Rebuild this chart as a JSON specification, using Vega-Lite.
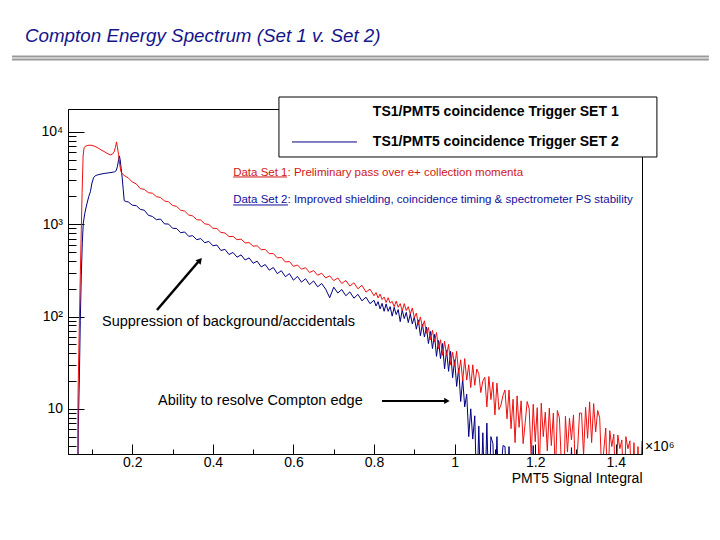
{
"$schema": "https://vega.github.io/schema/vega-lite/v6.json",
"width": 574, "height": 345,
"autosize": {"type": "none"},
"padding": {"left": 68, "top": 109, "right": 78, "bottom": 86},
"background": "white",
"config": {"view": {"stroke": "black", "strokeWidth": 1}, "font": "Liberation Sans"},
"layer": [
{
"data": {"values": [
{"set":"SET 2","x":0.062,"n":1},{"set":"SET 2","x":0.065,"n":1},{"set":"SET 2","x":0.066,"n":6},{"set":"SET 2","x":0.069,"n":25},{"set":"SET 2","x":0.071,"n":90},{"set":"SET 2","x":0.0735,"n":280},{"set":"SET 2","x":0.076,"n":630},{"set":"SET 2","x":0.0785,"n":1030},{"set":"SET 2","x":0.082,"n":1300},{"set":"SET 2","x":0.085,"n":1500},{"set":"SET 2","x":0.088,"n":1700},{"set":"SET 2","x":0.092,"n":2000},{"set":"SET 2","x":0.096,"n":2250},{"set":"SET 2","x":0.1,"n":2800},{"set":"SET 2","x":0.104,"n":3200},{"set":"SET 2","x":0.108,"n":3350},{"set":"SET 2","x":0.113,"n":3420},{"set":"SET 2","x":0.12,"n":3480},{"set":"SET 2","x":0.13,"n":3550},{"set":"SET 2","x":0.14,"n":3600},{"set":"SET 2","x":0.15,"n":3650},{"set":"SET 2","x":0.156,"n":3700},{"set":"SET 2","x":0.16,"n":3800},{"set":"SET 2","x":0.163,"n":4200},{"set":"SET 2","x":0.166,"n":5000},{"set":"SET 2","x":0.168,"n":5500},{"set":"SET 2","x":0.17,"n":5000},{"set":"SET 2","x":0.1725,"n":4000},{"set":"SET 2","x":0.175,"n":3200},{"set":"SET 2","x":0.1775,"n":2400},{"set":"SET 2","x":0.18,"n":1800},{"set":"SET 2","x":0.185,"n":1760},
{"set":"SET 2","x":0.19,"n":1750},{"set":"SET 2","x":0.2,"n":1610},{"set":"SET 2","x":0.21,"n":1590},{"set":"SET 2","x":0.22,"n":1450},{"set":"SET 2","x":0.23,"n":1420},{"set":"SET 2","x":0.24,"n":1250},{"set":"SET 2","x":0.25,"n":1215},{"set":"SET 2","x":0.26,"n":1120},{"set":"SET 2","x":0.27,"n":1140},{"set":"SET 2","x":0.28,"n":1010},{"set":"SET 2","x":0.29,"n":1005},{"set":"SET 2","x":0.3,"n":905},{"set":"SET 2","x":0.31,"n":900},{"set":"SET 2","x":0.32,"n":810},{"set":"SET 2","x":0.33,"n":825},{"set":"SET 2","x":0.34,"n":740},{"set":"SET 2","x":0.35,"n":752},{"set":"SET 2","x":0.36,"n":680},{"set":"SET 2","x":0.37,"n":700},{"set":"SET 2","x":0.38,"n":630},{"set":"SET 2","x":0.39,"n":652},{"set":"SET 2","x":0.4,"n":585},{"set":"SET 2","x":0.41,"n":596},{"set":"SET 2","x":0.42,"n":520},{"set":"SET 2","x":0.43,"n":535},{"set":"SET 2","x":0.44,"n":470},{"set":"SET 2","x":0.45,"n":495},{"set":"SET 2","x":0.46,"n":440},{"set":"SET 2","x":0.47,"n":466},{"set":"SET 2","x":0.48,"n":410},{"set":"SET 2","x":0.49,"n":432},{"set":"SET 2","x":0.5,"n":378},{"set":"SET 2","x":0.51,"n":398},{"set":"SET 2","x":0.52,"n":345},{"set":"SET 2","x":0.53,"n":366},{"set":"SET 2","x":0.54,"n":318},{"set":"SET 2","x":0.55,"n":340},{"set":"SET 2","x":0.56,"n":292},{"set":"SET 2","x":0.57,"n":314},{"set":"SET 2","x":0.58,"n":270},{"set":"SET 2","x":0.59,"n":292},{"set":"SET 2","x":0.6,"n":248},{"set":"SET 2","x":0.61,"n":272},{"set":"SET 2","x":0.62,"n":236},{"set":"SET 2","x":0.63,"n":257},{"set":"SET 2","x":0.64,"n":222},{"set":"SET 2","x":0.65,"n":243},{"set":"SET 2","x":0.66,"n":210},{"set":"SET 2","x":0.67,"n":228},{"set":"SET 2","x":0.68,"n":198},{"set":"SET 2","x":0.69,"n":160},{"set":"SET 2","x":0.7,"n":208},{"set":"SET 2","x":0.71,"n":180},{"set":"SET 2","x":0.72,"n":196},{"set":"SET 2","x":0.73,"n":168},{"set":"SET 2","x":0.74,"n":185},{"set":"SET 2","x":0.75,"n":158},{"set":"SET 2","x":0.76,"n":174},{"set":"SET 2","x":0.77,"n":148},{"set":"SET 2","x":0.78,"n":162},{"set":"SET 2","x":0.79,"n":138},{"set":"SET 2","x":0.8,"n":150},
{"set":"SET 2","x":0.805,"n":130},{"set":"SET 2","x":0.81,"n":145},{"set":"SET 2","x":0.815,"n":121},{"set":"SET 2","x":0.82,"n":139},{"set":"SET 2","x":0.825,"n":114},{"set":"SET 2","x":0.83,"n":137},{"set":"SET 2","x":0.835,"n":114},{"set":"SET 2","x":0.84,"n":128},{"set":"SET 2","x":0.845,"n":101},{"set":"SET 2","x":0.85,"n":126},{"set":"SET 2","x":0.855,"n":105},{"set":"SET 2","x":0.86,"n":119},{"set":"SET 2","x":0.865,"n":88},{"set":"SET 2","x":0.87,"n":118},{"set":"SET 2","x":0.875,"n":95},{"set":"SET 2","x":0.88,"n":111},{"set":"SET 2","x":0.885,"n":86},{"set":"SET 2","x":0.89,"n":107},{"set":"SET 2","x":0.895,"n":83},{"set":"SET 2","x":0.9,"n":99},{"set":"SET 2","x":0.905,"n":73},{"set":"SET 2","x":0.91,"n":92},{"set":"SET 2","x":0.915,"n":62},{"set":"SET 2","x":0.92,"n":83},{"set":"SET 2","x":0.925,"n":60},{"set":"SET 2","x":0.93,"n":77},{"set":"SET 2","x":0.935,"n":51},{"set":"SET 2","x":0.94,"n":69},{"set":"SET 2","x":0.945,"n":45},{"set":"SET 2","x":0.95,"n":64},{"set":"SET 2","x":0.955,"n":37},{"set":"SET 2","x":0.96,"n":55},{"set":"SET 2","x":0.965,"n":35},{"set":"SET 2","x":0.97,"n":51},{"set":"SET 2","x":0.975,"n":27},{"set":"SET 2","x":0.98,"n":43},{"set":"SET 2","x":0.985,"n":25.5},{"set":"SET 2","x":0.99,"n":42},{"set":"SET 2","x":0.995,"n":21.7},{"set":"SET 2","x":1.0,"n":34},{"set":"SET 2","x":1.005,"n":17.5},{"set":"SET 2","x":1.01,"n":27.6},{"set":"SET 2","x":1.015,"n":12},{"set":"SET 2","x":1.02,"n":21},{"set":"SET 2","x":1.025,"n":10.5},{"set":"SET 2","x":1.03,"n":14.4},{"set":"SET 2","x":1.035,"n":5},{"set":"SET 2","x":1.04,"n":10},{"set":"SET 2","x":1.045,"n":4.7},{"set":"SET 2","x":1.05,"n":8.4},{"set":"SET 2","x":1.055,"n":1},{"set":"SET 2","x":1.06,"n":6.5},{"set":"SET 2","x":1.065,"n":1},{"set":"SET 2","x":1.07,"n":5.5},{"set":"SET 2","x":1.075,"n":1},{"set":"SET 2","x":1.08,"n":7},{"set":"SET 2","x":1.085,"n":1},{"set":"SET 2","x":1.09,"n":5},{"set":"SET 2","x":1.095,"n":4.2},{"set":"SET 2","x":1.1,"n":1},{"set":"SET 2","x":1.105,"n":5},{"set":"SET 2","x":1.11,"n":1},{"set":"SET 2","x":1.12,"n":4},{"set":"SET 2","x":1.125,"n":3.9},{"set":"SET 2","x":1.13,"n":1},{"set":"SET 2","x":1.135,"n":3.9},{"set":"SET 2","x":1.14,"n":1},{"set":"SET 2","x":1.19,"n":1},{"set":"SET 2","x":1.195,"n":4},{"set":"SET 2","x":1.2,"n":1},{"set":"SET 2","x":1.285,"n":1},{"set":"SET 2","x":1.29,"n":3.8},{"set":"SET 2","x":1.295,"n":1},{"set":"SET 2","x":1.465,"n":1},
{"set":"SET 1","x":0.06,"n":1},{"set":"SET 1","x":0.064,"n":1},{"set":"SET 1","x":0.0655,"n":15},{"set":"SET 1","x":0.068,"n":60},{"set":"SET 1","x":0.0705,"n":220},{"set":"SET 1","x":0.073,"n":700},{"set":"SET 1","x":0.0755,"n":2200},{"set":"SET 1","x":0.078,"n":5500},{"set":"SET 1","x":0.0805,"n":6800},{"set":"SET 1","x":0.085,"n":7050},{"set":"SET 1","x":0.09,"n":7150},{"set":"SET 1","x":0.095,"n":7200},{"set":"SET 1","x":0.1,"n":7150},{"set":"SET 1","x":0.105,"n":7050},{"set":"SET 1","x":0.11,"n":6900},{"set":"SET 1","x":0.115,"n":6700},{"set":"SET 1","x":0.12,"n":6500},{"set":"SET 1","x":0.125,"n":6300},{"set":"SET 1","x":0.13,"n":6150},{"set":"SET 1","x":0.135,"n":5950},{"set":"SET 1","x":0.14,"n":5800},{"set":"SET 1","x":0.145,"n":5650},{"set":"SET 1","x":0.15,"n":5700},{"set":"SET 1","x":0.155,"n":6100},{"set":"SET 1","x":0.158,"n":6800},{"set":"SET 1","x":0.161,"n":7800},{"set":"SET 1","x":0.163,"n":6900},{"set":"SET 1","x":0.166,"n":5700},{"set":"SET 1","x":0.169,"n":4400},{"set":"SET 1","x":0.172,"n":3700},{"set":"SET 1","x":0.176,"n":3500},
{"set":"SET 1","x":0.18,"n":3380},{"set":"SET 1","x":0.19,"n":3180},{"set":"SET 1","x":0.2,"n":2870},{"set":"SET 1","x":0.21,"n":2740},{"set":"SET 1","x":0.22,"n":2430},{"set":"SET 1","x":0.23,"n":2390},{"set":"SET 1","x":0.24,"n":2200},{"set":"SET 1","x":0.25,"n":2170},{"set":"SET 1","x":0.26,"n":1990},{"set":"SET 1","x":0.27,"n":1950},{"set":"SET 1","x":0.28,"n":1790},{"set":"SET 1","x":0.29,"n":1750},{"set":"SET 1","x":0.3,"n":1600},{"set":"SET 1","x":0.31,"n":1560},{"set":"SET 1","x":0.32,"n":1420},{"set":"SET 1","x":0.33,"n":1390},{"set":"SET 1","x":0.34,"n":1260},{"set":"SET 1","x":0.35,"n":1230},{"set":"SET 1","x":0.36,"n":1120},{"set":"SET 1","x":0.37,"n":1110},{"set":"SET 1","x":0.38,"n":1010},{"set":"SET 1","x":0.39,"n":995},{"set":"SET 1","x":0.4,"n":905},{"set":"SET 1","x":0.41,"n":900},{"set":"SET 1","x":0.42,"n":815},{"set":"SET 1","x":0.43,"n":805},{"set":"SET 1","x":0.44,"n":735},{"set":"SET 1","x":0.45,"n":740},{"set":"SET 1","x":0.46,"n":680},{"set":"SET 1","x":0.47,"n":690},{"set":"SET 1","x":0.48,"n":628},{"set":"SET 1","x":0.49,"n":632},{"set":"SET 1","x":0.5,"n":578},{"set":"SET 1","x":0.51,"n":585},{"set":"SET 1","x":0.52,"n":530},{"set":"SET 1","x":0.53,"n":534},{"set":"SET 1","x":0.54,"n":480},{"set":"SET 1","x":0.55,"n":482},{"set":"SET 1","x":0.56,"n":432},{"set":"SET 1","x":0.57,"n":437},{"set":"SET 1","x":0.58,"n":390},{"set":"SET 1","x":0.59,"n":395},{"set":"SET 1","x":0.6,"n":350},{"set":"SET 1","x":0.61,"n":362},{"set":"SET 1","x":0.62,"n":326},{"set":"SET 1","x":0.63,"n":338},{"set":"SET 1","x":0.64,"n":300},{"set":"SET 1","x":0.65,"n":315},{"set":"SET 1","x":0.66,"n":280},{"set":"SET 1","x":0.67,"n":295},{"set":"SET 1","x":0.68,"n":262},{"set":"SET 1","x":0.69,"n":276},{"set":"SET 1","x":0.7,"n":245},{"set":"SET 1","x":0.71,"n":262},{"set":"SET 1","x":0.72,"n":228},{"set":"SET 1","x":0.73,"n":246},{"set":"SET 1","x":0.74,"n":214},{"set":"SET 1","x":0.75,"n":232},{"set":"SET 1","x":0.76,"n":200},{"set":"SET 1","x":0.77,"n":218},{"set":"SET 1","x":0.78,"n":184},{"set":"SET 1","x":0.79,"n":198},{"set":"SET 1","x":0.8,"n":168},
{"set":"SET 1","x":0.805,"n":182},{"set":"SET 1","x":0.81,"n":159},{"set":"SET 1","x":0.815,"n":175},{"set":"SET 1","x":0.82,"n":153},{"set":"SET 1","x":0.825,"n":163},{"set":"SET 1","x":0.83,"n":142},{"set":"SET 1","x":0.835,"n":160},{"set":"SET 1","x":0.84,"n":140},{"set":"SET 1","x":0.845,"n":146},{"set":"SET 1","x":0.85,"n":128},{"set":"SET 1","x":0.855,"n":147},{"set":"SET 1","x":0.86,"n":126},{"set":"SET 1","x":0.865,"n":138},{"set":"SET 1","x":0.87,"n":115},{"set":"SET 1","x":0.875,"n":138},{"set":"SET 1","x":0.88,"n":116},{"set":"SET 1","x":0.885,"n":128},{"set":"SET 1","x":0.89,"n":106},{"set":"SET 1","x":0.895,"n":124},{"set":"SET 1","x":0.9,"n":97},{"set":"SET 1","x":0.905,"n":109},{"set":"SET 1","x":0.91,"n":82},{"set":"SET 1","x":0.915,"n":99},{"set":"SET 1","x":0.92,"n":77},{"set":"SET 1","x":0.925,"n":90},{"set":"SET 1","x":0.93,"n":66},{"set":"SET 1","x":0.935,"n":76},{"set":"SET 1","x":0.94,"n":56},{"set":"SET 1","x":0.945,"n":71},{"set":"SET 1","x":0.95,"n":53},{"set":"SET 1","x":0.955,"n":67},{"set":"SET 1","x":0.96,"n":45},{"set":"SET 1","x":0.965,"n":56},{"set":"SET 1","x":0.97,"n":38},{"set":"SET 1","x":0.975,"n":54},{"set":"SET 1","x":0.98,"n":38},{"set":"SET 1","x":0.985,"n":50},{"set":"SET 1","x":0.99,"n":30},{"set":"SET 1","x":0.995,"n":41},{"set":"SET 1","x":1.0,"n":29},{"set":"SET 1","x":1.005,"n":42},{"set":"SET 1","x":1.01,"n":24},{"set":"SET 1","x":1.015,"n":34},{"set":"SET 1","x":1.02,"n":20},{"set":"SET 1","x":1.025,"n":35},{"set":"SET 1","x":1.03,"n":20.5},{"set":"SET 1","x":1.035,"n":30},{"set":"SET 1","x":1.04,"n":17},{"set":"SET 1","x":1.045,"n":30},{"set":"SET 1","x":1.05,"n":18},{"set":"SET 1","x":1.055,"n":27},{"set":"SET 1","x":1.06,"n":24},{"set":"SET 1","x":1.065,"n":15},{"set":"SET 1","x":1.07,"n":20},{"set":"SET 1","x":1.075,"n":22},{"set":"SET 1","x":1.08,"n":10.5},{"set":"SET 1","x":1.085,"n":22.4},{"set":"SET 1","x":1.09,"n":12.6},{"set":"SET 1","x":1.095,"n":19.5},{"set":"SET 1","x":1.1,"n":8.6},{"set":"SET 1","x":1.105,"n":19},{"set":"SET 1","x":1.11,"n":9.8},{"set":"SET 1","x":1.115,"n":11},{"set":"SET 1","x":1.12,"n":14},{"set":"SET 1","x":1.125,"n":16},{"set":"SET 1","x":1.13,"n":7.8},{"set":"SET 1","x":1.135,"n":16},{"set":"SET 1","x":1.14,"n":6.1},{"set":"SET 1","x":1.145,"n":12.7},{"set":"SET 1","x":1.15,"n":4.3},{"set":"SET 1","x":1.155,"n":13.8},{"set":"SET 1","x":1.16,"n":6.3},{"set":"SET 1","x":1.165,"n":12.2},{"set":"SET 1","x":1.17,"n":4.2},{"set":"SET 1","x":1.175,"n":7},{"set":"SET 1","x":1.18,"n":12},{"set":"SET 1","x":1.185,"n":10},{"set":"SET 1","x":1.19,"n":3},{"set":"SET 1","x":1.195,"n":11.2},{"set":"SET 1","x":1.2,"n":4.4},{"set":"SET 1","x":1.205,"n":10.3},{"set":"SET 1","x":1.21,"n":2},{"set":"SET 1","x":1.215,"n":11.5},{"set":"SET 1","x":1.22,"n":5},{"set":"SET 1","x":1.225,"n":9.2},{"set":"SET 1","x":1.23,"n":3.5},{"set":"SET 1","x":1.235,"n":10.2},{"set":"SET 1","x":1.24,"n":4},{"set":"SET 1","x":1.245,"n":9},{"set":"SET 1","x":1.25,"n":1.9},{"set":"SET 1","x":1.255,"n":9.6},{"set":"SET 1","x":1.26,"n":8},{"set":"SET 1","x":1.265,"n":2.5},{"set":"SET 1","x":1.27,"n":1},{"set":"SET 1","x":1.275,"n":8.3},{"set":"SET 1","x":1.28,"n":3.4},{"set":"SET 1","x":1.285,"n":7.9},{"set":"SET 1","x":1.29,"n":4.6},{"set":"SET 1","x":1.295,"n":8.6},{"set":"SET 1","x":1.3,"n":1.7},{"set":"SET 1","x":1.305,"n":3.5},{"set":"SET 1","x":1.31,"n":9},{"set":"SET 1","x":1.315,"n":9},{"set":"SET 1","x":1.32,"n":3.1},{"set":"SET 1","x":1.325,"n":10.4},{"set":"SET 1","x":1.33,"n":4.8},{"set":"SET 1","x":1.335,"n":11.9},{"set":"SET 1","x":1.34,"n":4.3},{"set":"SET 1","x":1.345,"n":11.4},{"set":"SET 1","x":1.35,"n":5.6},{"set":"SET 1","x":1.355,"n":9.6},{"set":"SET 1","x":1.36,"n":8},{"set":"SET 1","x":1.365,"n":2},{"set":"SET 1","x":1.37,"n":3.5},{"set":"SET 1","x":1.375,"n":6.2},{"set":"SET 1","x":1.38,"n":1.2},{"set":"SET 1","x":1.385,"n":5.8},{"set":"SET 1","x":1.39,"n":3.9},{"set":"SET 1","x":1.395,"n":5.3},{"set":"SET 1","x":1.4,"n":1.2},{"set":"SET 1","x":1.405,"n":5.2},{"set":"SET 1","x":1.41,"n":3.7},{"set":"SET 1","x":1.415,"n":4.6},{"set":"SET 1","x":1.42,"n":1},{"set":"SET 1","x":1.425,"n":5},{"set":"SET 1","x":1.43,"n":3.7},{"set":"SET 1","x":1.435,"n":4.5},{"set":"SET 1","x":1.44,"n":1},{"set":"SET 1","x":1.445,"n":4.3},{"set":"SET 1","x":1.45,"n":1},{"set":"SET 1","x":1.455,"n":3.9},{"set":"SET 1","x":1.46,"n":1},{"set":"SET 1","x":1.465,"n":4.5}
]},
"mark": {"type": "line", "clip": true, "strokeWidth": 1},
"encoding": {
"x": {"field": "x", "type": "quantitative",
 "scale": {"domain": [0.0405, 1.465], "nice": false, "zero": false},
 "axis": {"values": [0.1,0.2,0.3,0.4,0.5,0.6,0.7,0.8,0.9,1,1.1,1.2,1.3,1.4], "format": "~g",
  "labelExpr": "indexof([0.2,0.4,0.6,0.8,1,1.2,1.4], datum.value) >= 0 ? datum.label : ''",
  "tickSize": {"condition": {"test": "indexof([0.2,0.4,0.6,0.8,1,1.2,1.4], datum.value) >= 0", "value": -10}, "value": -5},
  "tickColor": "black", "domainColor": "black", "grid": false, "labelColor": "black", "labelFontSize": 14, "labelFont": "Liberation Sans", "labelPadding": 11.5, "labelOverlap": false, "labelFlush": false,
  "title": "PMT5 Signal Integral", "titleAnchor": "end", "titleFontSize": 14, "titleFontWeight": "normal", "titleColor": "black", "titleFont": "Liberation Sans", "titlePadding": -3}},
"y": {"field": "n", "type": "quantitative",
 "scale": {"type": "log", "domain": [3.24, 17740], "nice": false},
 "axis": {"values": [4,5,6,7,8,9,10,20,30,40,50,60,70,80,90,100,200,300,400,500,600,700,800,900,1000,2000,3000,4000,5000,6000,7000,8000,9000,10000],
  "labelExpr": "datum.value == 10 ? '10' : datum.value == 100 ? '10²' : datum.value == 1000 ? '10³' : datum.value == 10000 ? '10⁴' : ''",
  "tickSize": {"condition": {"test": "indexof([10,100,1000,10000], datum.value) >= 0", "value": -16}, "value": -8},
  "tickColor": "black", "domainColor": "black", "grid": false, "labelColor": "black", "labelFontSize": 14, "labelFont": "Liberation Sans", "labelPadding": 21.5, "labelOverlap": false, "labelFlush": false, "title": null}},
"color": {"field": "set", "type": "nominal", "scale": {"domain": ["SET 2", "SET 1"], "range": ["#000080", "#ee1010"]}, "legend": null}
}
},
{"data": {"values": [{}]}, "mark": {"type": "rule", "color": "#999999", "strokeWidth": 2},
 "encoding": {"x": {"datum": -0.0985}, "x2": {"datum": 1.631}, "y": {"datum": 65770}}},
{"data": {"values": [{}]}, "mark": {"type": "rule", "color": "#999999", "strokeWidth": 2},
 "encoding": {"x": {"datum": -0.0985}, "x2": {"datum": 1.631}, "y": {"datum": 61030}}},
{"data": {"values": [{}]}, "mark": {"type": "text", "text": "Compton Energy Spectrum (Set 1 v. Set 2)", "align": "left", "baseline": "alphabetic", "fontSize": 18.8, "fontStyle": "italic", "font": "Liberation Sans", "color": "#14148c"},
 "encoding": {"x": {"datum": -0.0663}, "y": {"datum": 94400}}},
{"data": {"values": [{}]}, "mark": {"type": "rect", "fill": "white", "stroke": "black", "strokeWidth": 1},
 "encoding": {"x": {"datum": 0.564}, "x2": {"datum": 1.502}, "y": {"datum": 23930}, "y2": {"datum": 5357}}},
{"data": {"values": [{}]}, "mark": {"type": "rule", "color": "#000080", "strokeWidth": 1},
 "encoding": {"x": {"datum": 0.5963}, "x2": {"datum": 0.7576}, "y": {"datum": 7794}}},
{"data": {"values": [{}]}, "mark": {"type": "text", "text": "TS1/PMT5 coincidence Trigger SET 1", "align": "left", "baseline": "middle", "fontSize": 14, "fontWeight": "bold", "font": "Liberation Sans", "color": "black"},
 "encoding": {"x": {"datum": 0.797}, "y": {"datum": 16470}}},
{"data": {"values": [{}]}, "mark": {"type": "text", "text": "TS1/PMT5 coincidence Trigger SET 2", "align": "left", "baseline": "middle", "fontSize": 14, "fontWeight": "bold", "font": "Liberation Sans", "color": "black"},
 "encoding": {"x": {"datum": 0.797}, "y": {"datum": 7794}}},
{"data": {"values": [{}]}, "mark": {"type": "text", "text": "Data Set 1: Preliminary pass over e+ collection momenta", "align": "left", "baseline": "middle", "fontSize": 11.5, "font": "Liberation Sans", "color": "#d01818"},
 "encoding": {"x": {"datum": 0.4504}, "y": {"datum": 3596}}},
{"data": {"values": [{}]}, "mark": {"type": "rule", "color": "#d01818", "strokeWidth": 1},
 "encoding": {"x": {"datum": 0.4504}, "x2": {"datum": 0.5839}, "y": {"datum": 3254}}},
{"data": {"values": [{}]}, "mark": {"type": "text", "text": "Data Set 2: Improved shielding, coincidence timing & spectrometer PS stability", "align": "left", "baseline": "middle", "fontSize": 11.5, "font": "Liberation Sans", "color": "#10109a"},
 "encoding": {"x": {"datum": 0.4504}, "y": {"datum": 1834}}},
{"data": {"values": [{}]}, "mark": {"type": "rule", "color": "#10109a", "strokeWidth": 1},
 "encoding": {"x": {"datum": 0.4504}, "x2": {"datum": 0.5864}, "y": {"datum": 1618}}},
{"data": {"values": [{}]}, "mark": {"type": "text", "text": "Suppression of background/accidentals", "align": "left", "baseline": "middle", "fontSize": 14.5, "font": "Liberation Sans", "color": "black"},
 "encoding": {"x": {"datum": 0.1248}, "y": {"datum": 87.4}}},
{"data": {"values": [{}]}, "mark": {"type": "rule", "color": "black", "strokeWidth": 2.5},
 "encoding": {"x": {"datum": 0.2614}, "x2": {"datum": 0.3655}, "y": {"datum": 117.9}, "y2": {"datum": 400}}},
{"data": {"values": [{}]}, "mark": {"type": "point", "shape": "triangle-up", "filled": true, "color": "black", "size": 45, "angle": 41, "opacity": 1},
 "encoding": {"x": {"datum": 0.368}, "y": {"datum": 407}}},
{"data": {"values": [{}]}, "mark": {"type": "text", "text": "Ability to resolve Compton edge", "align": "left", "baseline": "middle", "fontSize": 14.5, "font": "Liberation Sans", "color": "black"},
 "encoding": {"x": {"datum": 0.2638}, "y": {"datum": 12.18}}},
{"data": {"values": [{}]}, "mark": {"type": "rule", "color": "black", "strokeWidth": 2},
 "encoding": {"x": {"datum": 0.8197}, "x2": {"datum": 0.9784}, "y": {"datum": 12.18}}},
{"data": {"values": [{}]}, "mark": {"type": "point", "shape": "triangle-right", "filled": true, "color": "black", "size": 40, "opacity": 1},
 "encoding": {"x": {"datum": 0.9809}, "y": {"datum": 12.18}}},
{"data": {"values": [{}]}, "mark": {"type": "text", "text": "×10⁶", "align": "left", "baseline": "middle", "fontSize": 14, "font": "Liberation Sans", "color": "black"},
 "encoding": {"x": {"datum": 1.4722}, "y": {"datum": 3.86}}}
]
}
